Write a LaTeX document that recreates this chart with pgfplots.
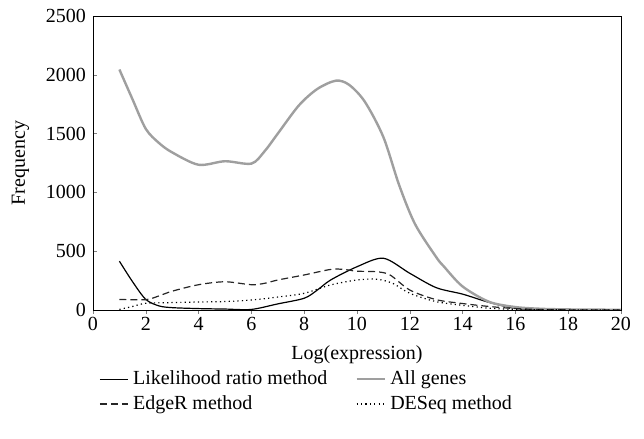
\documentclass[border=0pt]{standalone}
\usepackage{fontspec}
\setmainfont{Liberation Serif}
\usepackage{pgfplots}
\pgfplotsset{compat=1.18}

\begin{document}
\begin{tikzpicture}
\begin{axis}[
    width=264pt, height=147pt,
    scale only axis,
    xmin=0, xmax=20, ymin=0, ymax=2500,
    xtick={0,2,...,20},
    ytick={0,500,...,2500},
    xtick pos=bottom, ytick pos=left,
    tick align=inside,
    major tick length=2pt,
    xtick style={yshift=-2pt},
    /pgf/number format/assume math mode=true,
    /pgf/number format/1000 sep={},
    tick label style={font=\fontsize{10}{12}\selectfont},
    label style={font=\fontsize{10}{12}\selectfont},
    xlabel={Log(expression)},
    ylabel={Frequency},
    xlabel style={yshift=-0.5pt},
    ylabel style={yshift=1.5pt},
    legend columns=2,
    legend cell align=left,
    legend style={draw=none, fill=none, at={(axis description cs:0.0,-0.178)}, anchor=north west,
        font=\fontsize{10}{12}\selectfont, /tikz/every even column/.append style={column sep=12pt},
        row sep=0pt},
    legend image code/.code={\draw[#1] (0cm,0cm) -- (0.5cm,0cm);},
]
\addplot[black, line width=0.6pt, smooth] coordinates {
(1,415)(1.5,240)(2,90)(2.5,35)(3,20)(4,12)(5,8)(6,5)(7,52)(8,100)(8.5,170)(9,255)(10,368)(11,440)(12,312)(13,190)(14,135)(15,65)(16,14)(17,4)(18,1)(19,0)(20,0)};
\addlegendentry{Likelihood ratio method}
\addplot[gray!75, line width=1.2pt, smooth] coordinates {
(1,2045)(1.5,1790)(2,1540)(2.5,1420)(3,1340)(4,1235)(5,1265)(6,1245)(6.5,1350)(7,1500)(7.8,1740)(8.5,1880)(9.2,1950)(9.7,1915)(10.3,1770)(11,1470)(11.6,1060)(12.2,730)(13,450)(13.3,368)(14,200)(15,70)(16,25)(17,10)(18,5)(19,3)(20,2)};
\addlegendentry{All genes}
\addplot[black!85, line width=0.6pt, smooth, dash pattern=on 3.5pt off 2pt] coordinates {
(1,90)(2,88)(2.5,120)(3,160)(4,215)(5,240)(6,215)(6.5,227)(7,255)(8,298)(9,345)(9.5,345)(10,330)(10.75,325)(11.25,298)(12,170)(13,88)(14,55)(15,30)(16,12)(17,4)(18,1)(19,0)(20,0)};
\addlegendentry{EdgeR method}
\addplot[black, line width=0.6pt, smooth, dash pattern=on 0.6pt off 1.6pt] coordinates {
(1,5)(1.5,30)(2,57)(3,63)(4,68)(5,72)(6,85)(7,110)(8,142)(9,213)(10,255)(10.75,262)(11.35,227)(12,142)(13,71)(14,40)(15,15)(16,5)(17,2)(18,1)(19,0)(20,0)};
\addlegendentry{DESeq method}
\end{axis}
\pgfresetboundingbox
\path[use as bounding box] ([shift={(-46.5pt,-64.5pt)}]current axis.south west) rectangle ([shift={(11.5pt,8pt)}]current axis.north east);
\end{tikzpicture}
\end{document}
